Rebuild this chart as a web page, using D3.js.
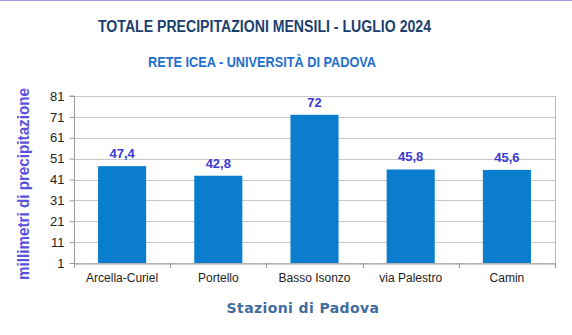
<!DOCTYPE html>
<html><head><meta charset="utf-8">
<script src="https://cdn.jsdelivr.net/npm/d3@7"></script>
<style>body{margin:0;background:#fff}svg{display:block}</style>
</head><body>
<script>
const categories = ["Arcella-Curiel","Portello","Basso Isonzo","via Palestro","Camin"];
const values = [47.4, 42.8, 72, 45.8, 45.6];
const valueLabels = ["47,4","42,8","72","45,8","45,6"];
const yTicks = [1,11,21,31,41,51,61,71,81];
const title = "TOTALE PRECIPITAZIONI MENSILI - LUGLIO 2024";
const subtitle = "RETE ICEA - UNIVERSITÀ DI PADOVA";
const xTitle = "Stazioni di Padova";
const yTitle = "millimetri di precipitazione";

const W = 572, H = 335;
const m = {left:74, right:17, top:96, bottom:72};
const svg = d3.select("body").append("svg").attr("width",W).attr("height",H);
svg.append("rect").attr("width",W).attr("height",H).attr("fill","#fff");
svg.append("line").attr("x1",0).attr("x2",W).attr("y1",0.5).attr("y2",0.5).attr("stroke","#9b9be0");

const x = d3.scaleBand().domain(categories).range([m.left, W-m.right]).padding(0.5).paddingOuter(0.25);
const y = d3.scaleLinear().domain([1,81]).range([H-m.bottom, m.top]);

// gridlines
svg.append("g").selectAll("line").data(yTicks).join("line")
  .attr("x1",m.left).attr("x2",W-m.right)
  .attr("y1",d=>Math.round(y(d))+0.5).attr("y2",d=>Math.round(y(d))+0.5)
  .attr("stroke","#c8c8c8");
// right border
svg.append("line").attr("x1",W-m.right+0.5).attr("x2",W-m.right+0.5)
  .attr("y1",m.top).attr("y2",H-m.bottom+5).attr("stroke","#b8b8b8");

// bars
svg.append("g").selectAll("rect").data(values).join("rect")
  .attr("x",(d,i)=>x(categories[i])).attr("width",x.bandwidth())
  .attr("y",d=>y(d)).attr("height",d=>y(1)-y(d)).attr("fill","#0b7dcf");

// y axis
const yAxis = d3.axisLeft(y).tickValues(yTicks).tickSize(5).tickPadding(5).tickFormat(d3.format("d"));
const gy = svg.append("g").attr("transform",`translate(${m.left+0.5},0)`).call(yAxis);
gy.select(".domain").attr("stroke","#999").attr("d",`M-5,${y(81)}H0V${y(1)}`);
gy.selectAll(".tick line").attr("stroke","#999");
gy.selectAll("text").attr("font-family","Liberation Sans, Arial, sans-serif").attr("font-size",13).attr("fill","#222");

// x axis
const xAxis = d3.axisBottom(x).tickSize(0).tickPadding(10);
const gx = svg.append("g").attr("transform",`translate(0,${Math.round(y(1))+0.5})`).call(xAxis);
gx.select(".domain").attr("stroke","#999");
gx.selectAll("text").attr("font-family","Liberation Sans, Arial, sans-serif").attr("font-size",12).attr("fill","#222");
// category separators
const seps = d3.range(categories.length+1).map(i=>m.left + i*((W-m.right-m.left)/categories.length));
svg.append("g").selectAll("line").data(seps).join("line")
  .attr("x1",d=>Math.round(d)+0.5).attr("x2",d=>Math.round(d)+0.5)
  .attr("y1",Math.round(y(1))).attr("y2",Math.round(y(1))+5).attr("stroke","#999");

// value labels
svg.append("g").selectAll("text").data(values).join("text")
  .attr("x",(d,i)=>x(categories[i])+x.bandwidth()/2).attr("y",d=>y(d)-8)
  .attr("text-anchor","middle").attr("font-family","Liberation Sans, Arial, sans-serif")
  .attr("font-weight","bold").attr("font-size",13).attr("fill","#3a3ad6")
  .text((d,i)=>valueLabels[i]);

// titles
svg.append("text").attr("x",264.5).attr("y",32).attr("text-anchor","middle")
  .attr("font-family","Liberation Sans, Arial, sans-serif").attr("font-weight","bold")
  .attr("font-size",16).attr("fill","#1c3f6e")
  .attr("textLength",333).attr("lengthAdjust","spacingAndGlyphs").text(title);
svg.append("text").attr("x",262).attr("y",67).attr("text-anchor","middle")
  .attr("font-family","Liberation Sans, Arial, sans-serif").attr("font-weight","bold")
  .attr("font-size",14).attr("fill","#1f6fd0")
  .attr("textLength",228).attr("lengthAdjust","spacingAndGlyphs").text(subtitle);
svg.append("text").attr("x",303).attr("y",313).attr("text-anchor","middle")
  .attr("font-family","DejaVu Sans, Verdana, sans-serif").attr("font-weight","bold")
  .attr("font-size",14).attr("fill","#3f6d9e").attr("letter-spacing","0.4").text(xTitle);
svg.append("text").attr("transform","translate(29,184) rotate(-90)").attr("text-anchor","middle")
  .attr("font-family","Liberation Sans, Arial, sans-serif").attr("font-weight","bold")
  .attr("font-size",16).attr("fill","#5a52dc")
  .attr("textLength",192).attr("lengthAdjust","spacingAndGlyphs").text(yTitle);
</script>
</body></html>
